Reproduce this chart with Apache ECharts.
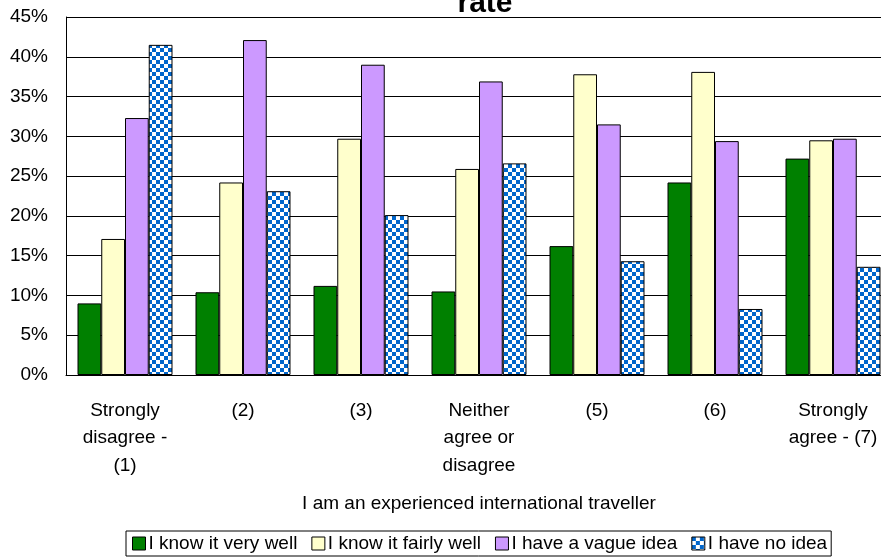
<!DOCTYPE html>
<html><head><meta charset="utf-8">
<script src="https://cdn.jsdelivr.net/npm/echarts@6/dist/echarts.min.js"></script>
<style>html,body{margin:0;padding:0;background:#fff;overflow:hidden;width:881px;height:558px}#c{width:892px;height:558px}</style>
</head><body><div id="c"></div>
<script>
var categories = ['Strongly\ndisagree -\n(1)', '(2)', '(3)', 'Neither\nagree or\ndisagree', '(5)', '(6)', 'Strongly\nagree - (7)'];
var seriesNames = ['I know it very well', 'I know it fairly well', 'I have a vague idea', 'I have no idea'];
var veryWell = [9.0, 10.4, 11.2, 10.5, 16.2, 24.2, 27.2];
var fairlyWell = [17.1, 24.2, 29.7, 25.9, 37.8, 38.1, 29.5];
var vagueIdea = [32.3, 42.1, 39.0, 36.9, 31.5, 29.4, 29.7];
var noIdea = [41.5, 23.1, 20.1, 26.6, 14.3, 8.3, 13.6];
var yTicks = [0, 5, 10, 15, 20, 25, 30, 35, 40, 45];

var FONT = '"Liberation Sans Narrow", "Arial Narrow", "Liberation Sans", sans-serif';

function makePattern() {
  var c = document.createElement('canvas');
  c.width = 8; c.height = 8;
  var g = c.getContext('2d');
  g.fillStyle = '#ffffff'; g.fillRect(0, 0, 8, 8);
  g.fillStyle = '#0066cc';
  g.fillRect(0, 0, 4, 4);
  g.fillRect(4, 4, 4, 4);
  return { image: c, repeat: 'repeat' };
}

var colors = ['#008000', '#ffffcc', '#cc99ff', makePattern()];
var dataSets = [veryWell, fairlyWell, vagueIdea, noIdea];

var chart = echarts.init(document.getElementById('c'));
chart.setOption({
  animation: false,
  title: {
    text: 'rate', left: 480, top: -16, textAlign: 'center',
    textStyle: { fontFamily: FONT, fontSize: 30, fontWeight: 'bold', color: '#000' }
  },
  grid: { left: 66, top: 17, width: 826, height: 358, containLabel: false },
  legend: {
    bottom: 2, left: 126, icon: 'rect',
    itemWidth: 13, itemHeight: 13, itemGap: 14,
    borderColor: '#000', borderWidth: 1, padding: [3, 4, 3, 6],
    textStyle: { fontFamily: FONT, fontSize: 19, color: '#000', padding: [0, 0, 0, -2] },
    data: seriesNames.map(function (n) { return { name: n, itemStyle: { borderColor: '#000', borderWidth: 1 } }; })
  },
  xAxis: {
    type: 'category', data: categories,
    name: 'I am an experienced international traveller', nameLocation: 'middle', nameGap: 119,
    nameTextStyle: { fontFamily: FONT, fontSize: 19, color: '#000' },
    axisLine: { lineStyle: { color: '#000', width: 1 } },
    axisTick: { show: false },
    axisLabel: { fontFamily: FONT, fontSize: 19, color: '#000', lineHeight: 27.5, margin: 22, interval: 0, verticalAlign: 'top' }
  },
  yAxis: {
    type: 'value', min: 0, max: 45, interval: 5,
    axisLine: { show: true, lineStyle: { color: '#000', width: 1 } },
    axisTick: { show: false },
    splitLine: { lineStyle: { color: '#000', width: 1 } },
    axisLabel: { fontFamily: FONT, fontSize: 19, color: '#000', margin: 18, formatter: '{value}%' }
  },
  series: seriesNames.map(function (n, i) {
    return {
      name: n, type: 'bar', data: dataSets[i],
      barGap: '0%', barCategoryGap: '19.5%',
      itemStyle: { color: colors[i], borderColor: '#000', borderWidth: 1 }
    };
  })
});
</script></body></html>
